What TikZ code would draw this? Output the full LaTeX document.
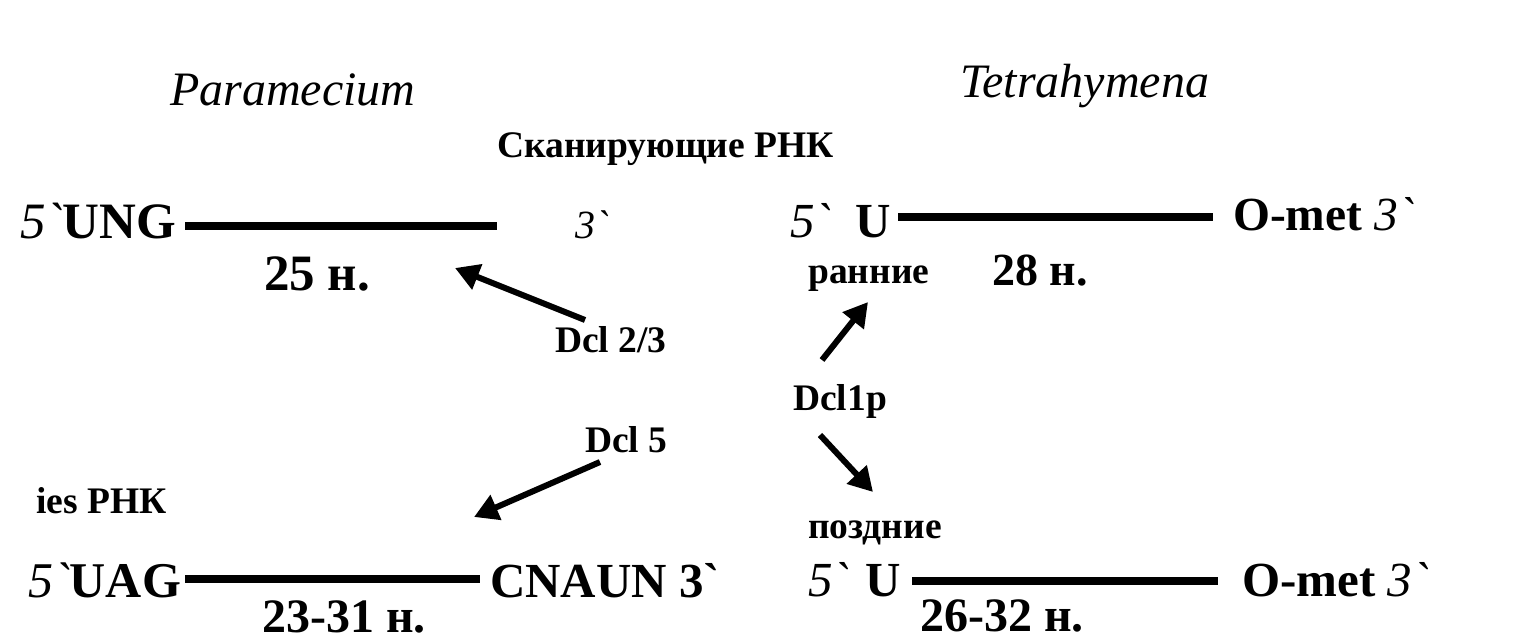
\documentclass[tikz,border=0pt]{standalone}
\usepackage{fontspec}
\setmainfont{Liberation Serif}[Ligatures=TeXOff]
\usetikzlibrary{arrows.meta}
\begin{document}
\begin{tikzpicture}
[x=1pt,y=-1pt,
big/.style={font=\fontsize{49}{52}\selectfont\bfseries,inner sep=0pt,anchor=base west},
small/.style={font=\fontsize{37.5}{40}\selectfont\bfseries,inner sep=0pt,anchor=base west},
title/.style={font=\fontsize{48}{52}\selectfont\itshape,inner sep=0pt,anchor=base west},
strand/.style={line width=8pt},
cut/.style={line width=6pt,-{Triangle[length=24pt,width=26pt]}}]
\useasboundingbox (0,0) rectangle (1522,640);
%titles
	\node[title] (par) at (170,105) {Paramecium};
	\node[title] (tet) at (960,97) {Tetrahymena};
	\node[small] (scan) at (497,157) {Сканирующие РНК};
%Paramecium, scan RNA
	\node[big,font=\fontsize{51}{54}\selectfont\bfseries] (ung) at (20,238) {\mdseries\itshape 5`\upshape\bfseries UNG};
	\node[title,font=\fontsize{40}{44}\selectfont\itshape] (p3a) at (575,238) {3`};
	\node[big,font=\fontsize{51}{54}\selectfont\bfseries] (n25) at (264,290) {25 н.};
	\coordinate (s1a) at (185,226);
	\coordinate (s1b) at (497,226);
	\draw[strand] (s1a) -- (s1b);
%Tetrahymena, early
	\node[big] (tu1) at (790,237) {\mdseries\itshape 5`\hspace{24pt}\upshape\bfseries U};
	\node[big,font=\fontsize{47.5}{50}\selectfont\bfseries] (om1) at (1233,230) {O-met \mdseries\itshape 3`};
	\node[small] (early) at (808,283) {ранние};
	\node[big,font=\fontsize{46}{50}\selectfont\bfseries] (n28) at (992,285) {28 н.};
	\coordinate (s2a) at (898,217);
	\coordinate (s2b) at (1213,217);
	\draw[strand] (s2a) -- (s2b);
%dicers
	\node[small] (dcl23) at (555,352) {Dcl 2/3};
	\node[small] (dcl1) at (793,410) {Dcl1p};
	\node[small] (dcl5) at (585,452) {Dcl 5};
	\coordinate (a1) at (585,320);
	\coordinate (b1) at (455,268);
	\coordinate (a2) at (822,360);
	\coordinate (b2) at (868,302);
	\coordinate (a3) at (820,435);
	\coordinate (b3) at (873,492);
	\coordinate (a4) at (600,462);
	\coordinate (b4) at (474,517);
	\draw[cut] (a1) -- (b1);
	\draw[cut] (a2) -- (b2);
	\draw[cut] (a3) -- (b3);
	\draw[cut] (a4) -- (b4);
%Paramecium, ies RNA
	\node[small] (ies) at (36,513) {ies РНК};
	\node[big,font=\fontsize{50}{54}\selectfont\bfseries] (uag) at (28,597) {\mdseries\itshape 5`\upshape\bfseries UAG};
	\node[big] (cnaun) at (490,597) {CNAUN 3`};
	\node[big,font=\fontsize{48}{52}\selectfont\bfseries] (n2331) at (262,632) {23-31 н.};
	\coordinate (s3a) at (185,579);
	\coordinate (s3b) at (480,579);
	\draw[strand] (s3a) -- (s3b);
%Tetrahymena, late
	\node[small] (late) at (808,538) {поздние};
	\node[big] (tu2) at (808,596) {\mdseries\itshape 5`\hspace{16pt}\upshape\bfseries U};
	\node[big] (om2) at (1242,596) {O-met \mdseries\itshape 3`};
	\node[big,font=\fontsize{48}{52}\selectfont\bfseries] (n2632) at (920,631) {26-32 н.};
	\coordinate (s4a) at (912,581);
	\coordinate (s4b) at (1218,581);
	\draw[strand] (s4a) -- (s4b);
\end{tikzpicture}
\end{document}
